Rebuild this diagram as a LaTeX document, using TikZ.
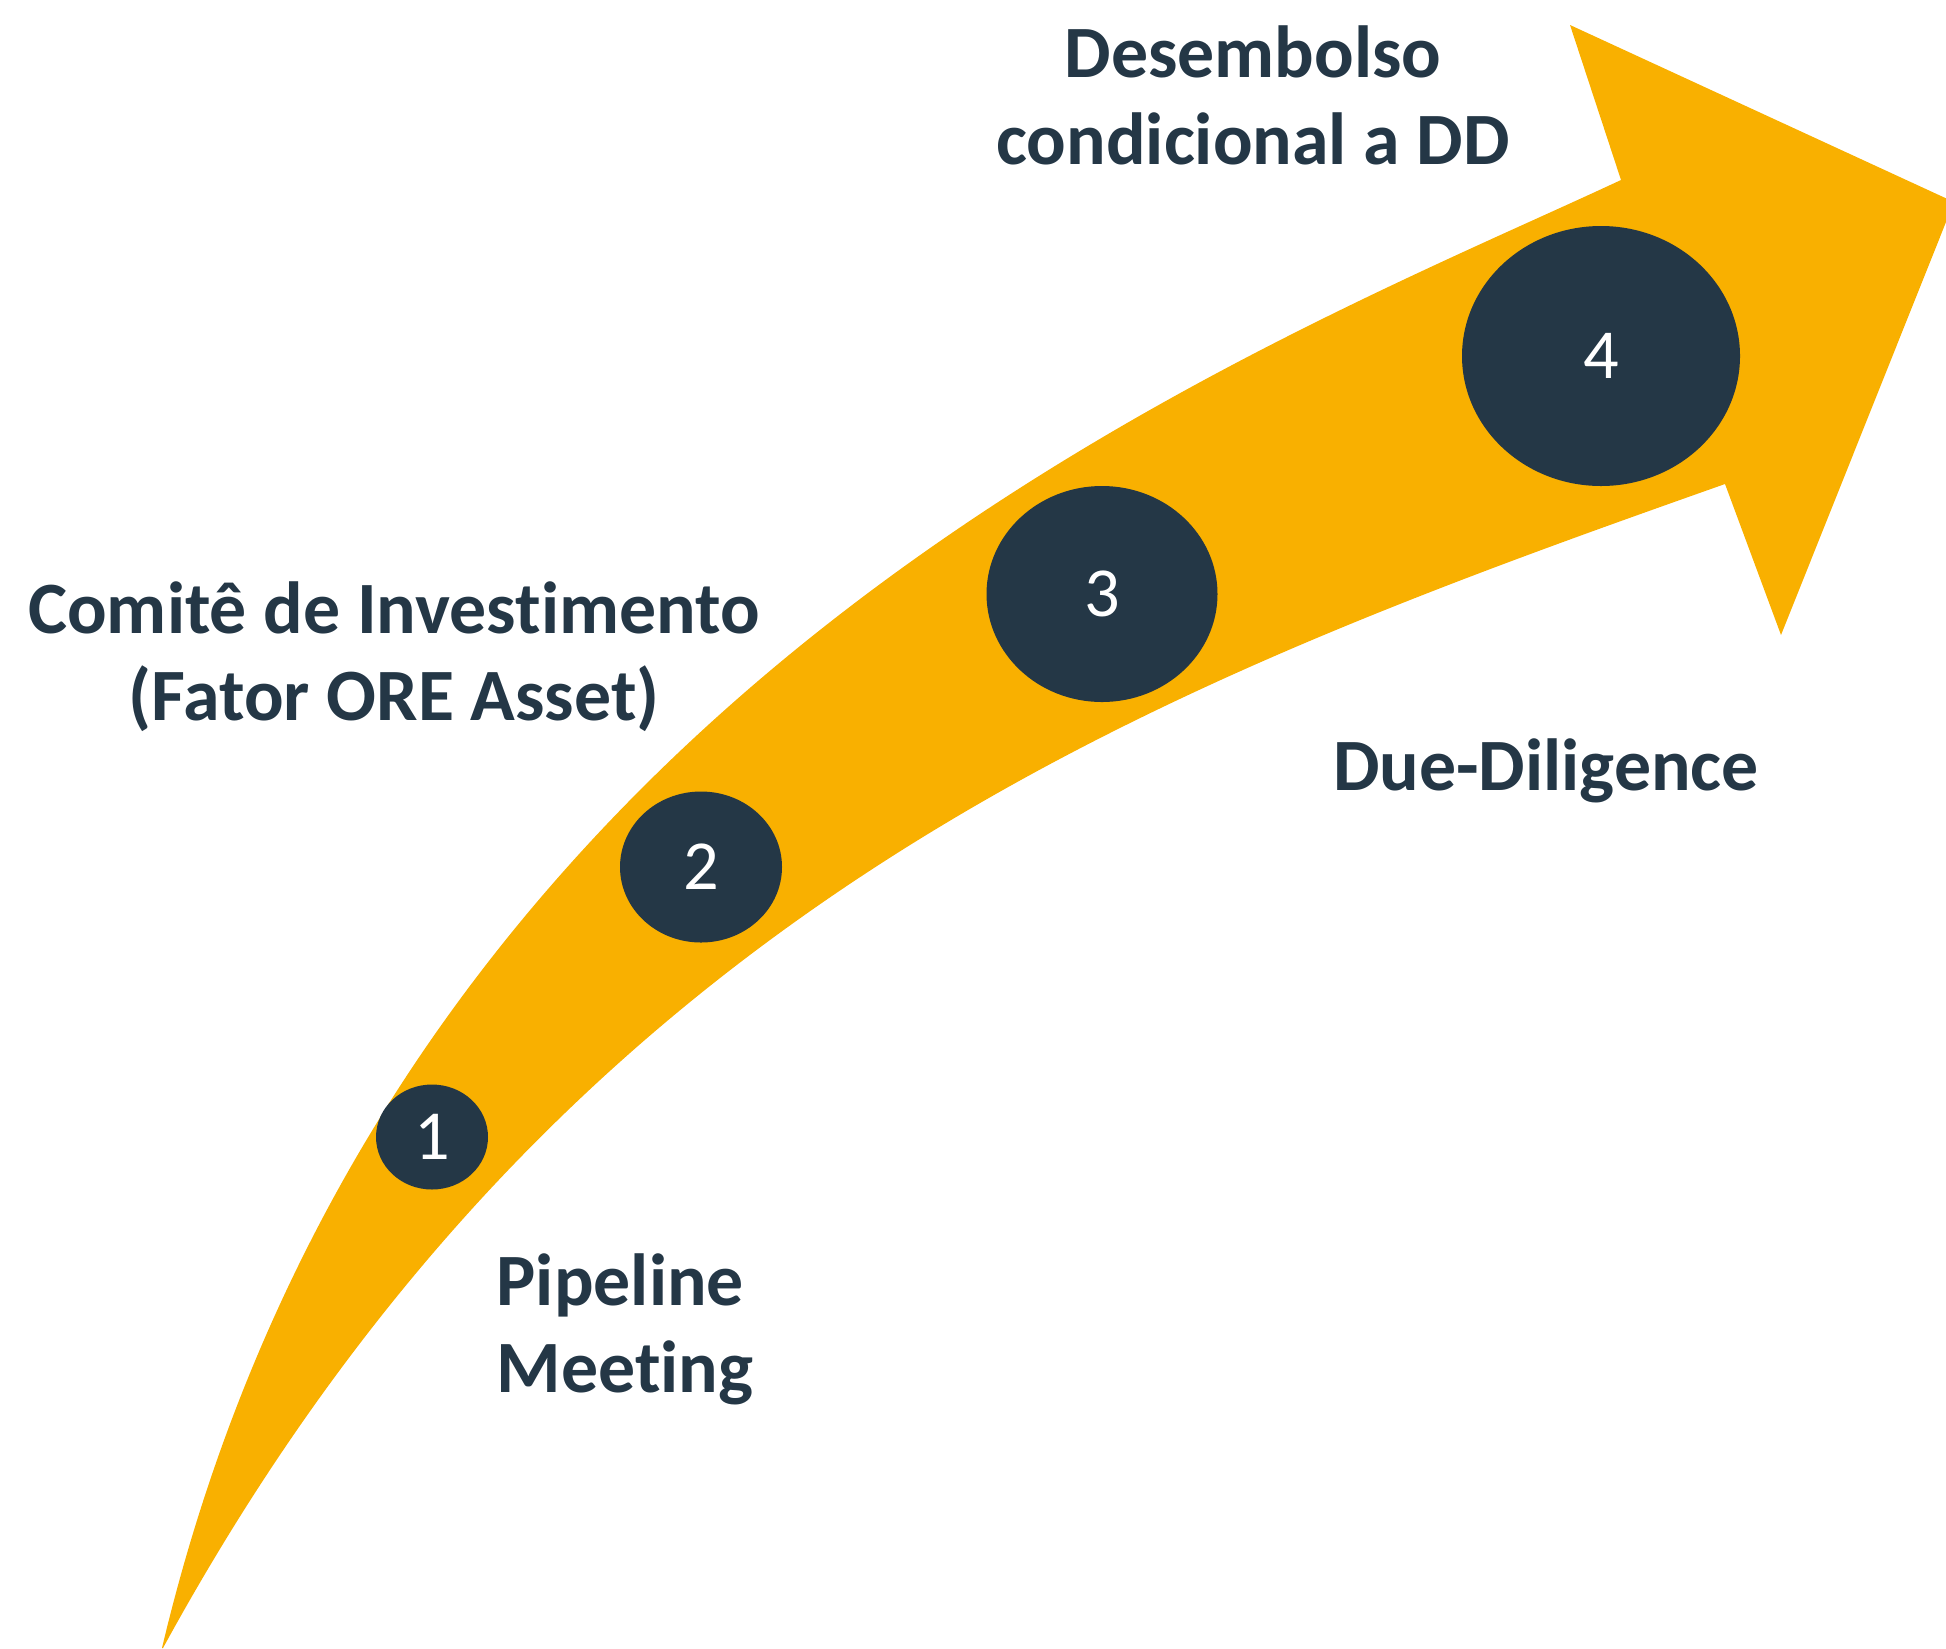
\documentclass[tikz,border=0pt]{standalone}
\usepackage{fontspec}
\setmainfont{Carlito}[Ligatures=CommonOff]
\usetikzlibrary{shapes.geometric}
\definecolor{oreorange}{HTML}{F9B000}
\definecolor{orenavy}{HTML}{243746}

\begin{document}
\begin{tikzpicture}[x=1cm, y=-1cm, inner sep=0pt]
	\tikzstyle{stagelabel}=[font=\bfseries\fontsize{21}{24.5}\selectfont, text=orenavy, align=center]
	\tikzstyle{stagedot}=[ellipse, fill=orenavy, text=white, font=\fontsize{20}{24}\selectfont]
		\useasboundingbox (0, 0) rectangle (19.46, 16.48);

		% the bent arrow
		\fill[oreorange] (1.62, 16.48) .. controls (3.93, 6.75) and (12.59, 3.49) .. (16.21, 1.80)
			-- (15.70, 0.25) -- (19.54, 2.02) -- (17.81, 6.35) -- (17.25, 4.84)
			.. controls (11.59, 6.84) and (5.70, 9.02) .. (1.63, 16.48) -- cycle;

		% stages
		\node[stagedot, minimum width=1.12cm, minimum height=1.05cm] (one) at (4.32, 11.37) {1};
		\node[stagedot, minimum width=1.62cm, minimum height=1.51cm] (two) at (7.01, 8.67) {2};
		\node[stagedot, minimum width=2.31cm, minimum height=2.16cm] (three) at (11.02, 5.94) {3};
		\node[stagedot, minimum width=2.78cm, minimum height=2.60cm] (four) at (16.01, 3.56) {4};

		\node[stagelabel, anchor=base west, align=left] (pipeline) at (4.96, 13.92) {Pipeline\\Meeting};
		\node[stagelabel, anchor=base] (comite) at (3.94, 7.20) {Comitê de Investimento\\(Fator ORE Asset)};
		\node[stagelabel, anchor=base] (due) at (15.46, 7.90) {Due-Diligence};
		\node[stagelabel, anchor=base] (desembolso) at (12.53, 1.64) {Desembolso\\condicional a DD};
	\end{tikzpicture}
\end{document}
